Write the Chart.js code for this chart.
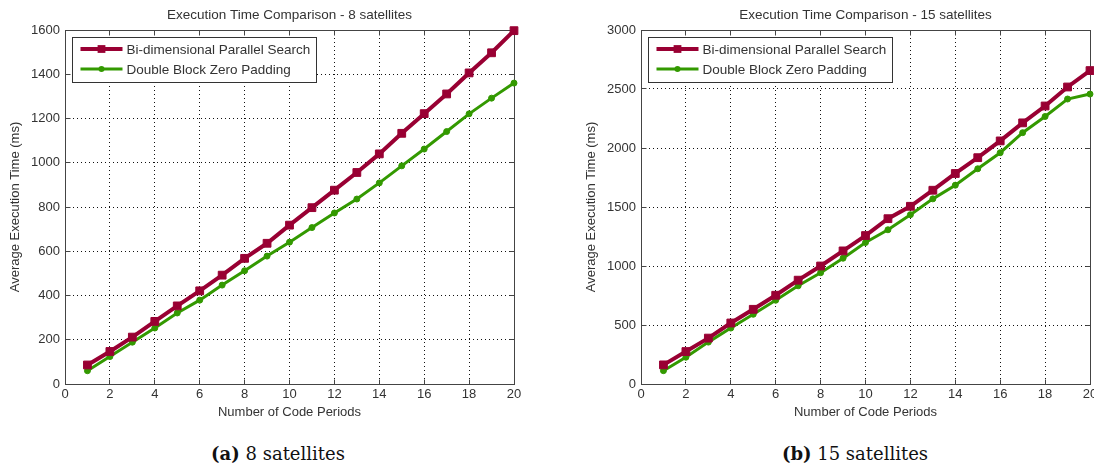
<!DOCTYPE html>
<html><head><meta charset="utf-8">
<script src="https://cdn.jsdelivr.net/npm/chart.js@4.4.1/dist/chart.umd.min.js"></script>
<style>
html,body{margin:0;padding:0;background:#fff;width:1094px;height:471px;overflow:hidden;position:relative;}
canvas{position:absolute;top:0;}
#c1{left:0;}
#c2{left:547px;}
.cap{position:absolute;top:444px;font-family:"DejaVu Serif",serif;font-size:18px;color:#111;white-space:nowrap;transform:translateX(-50%);line-height:20px;}
</style></head><body>
<canvas id="c1" width="547" height="430"></canvas>
<canvas id="c2" width="560" height="430"></canvas>
<div class="cap" style="left:278px"><b>(a)</b> 8 satellites</div>
<div class="cap" style="left:855px"><b>(b)</b> 15 satellites</div>
<script>
// ---- data ----
const periods = [1,2,3,4,5,6,7,8,9,10,11,12,13,14,15,16,17,18,19,20];
const xTicks = [0,2,4,6,8,10,12,14,16,18,20];
const yTicks8 = [0,200,400,600,800,1000,1200,1400,1600];
const yTicks15 = [0,500,1000,1500,2000,2500,3000];
const bi8   = [86,147,212,283,353,421,492,568,636,718,797,876,956,1040,1133,1222,1311,1406,1497,1597];
const dbzp8 = [60,124,189,253,321,379,447,512,578,641,707,773,836,909,986,1062,1141,1221,1292,1360];
const bi15   = [162,275,389,517,633,752,880,1000,1128,1258,1401,1506,1642,1784,1918,2060,2213,2356,2517,2656];
const dbzp15 = [113,227,355,474,591,710,832,943,1066,1199,1307,1435,1569,1685,1824,1960,2130,2267,2415,2457];
const seriesLabels = ['Bi-dimensional Parallel Search','Double Block Zero Padding'];
const chartTitles = ['Execution Time Comparison - 8 satellites','Execution Time Comparison - 15 satellites'];
const xTitle = 'Number of Code Periods';
const yTitle = 'Average Execution Time (ms)';

const FONT = '"Liberation Sans", Arial, sans-serif';
const TXT = '#333';
const RED = '#990033';
const GREEN = '#339900';

function ap(p){ return Math.round(p - 0.5) + 0.5; }

const framePlugin = {
  id: 'frame',
  beforeDatasetsDraw(chart){
    const {ctx, chartArea:a, scales:{x, y}} = chart;
    const L = ap(a.left), R = ap(a.right), T = ap(a.top), B = ap(a.bottom);
    ctx.save();
    ctx.strokeStyle = '#444';
    ctx.lineWidth = 1;
    ctx.setLineDash([]);
    ctx.strokeRect(L, T, R - L, B - T);
    ctx.beginPath();
    x.ticks.forEach(t => {
      const px = ap(x.getPixelForValue(t.value));
      ctx.moveTo(px, B); ctx.lineTo(px, B - 5);
      ctx.moveTo(px, T); ctx.lineTo(px, T + 5);
    });
    y.ticks.forEach(t => {
      const py = ap(y.getPixelForValue(t.value));
      ctx.moveTo(L, py); ctx.lineTo(L + 5, py);
      ctx.moveTo(R, py); ctx.lineTo(R - 5, py);
    });
    ctx.stroke();
    ctx.restore();
  },
  afterDraw(chart){
    // chart title centred over the plot area (as in the reference)
    const {ctx, chartArea:a} = chart;
    ctx.save();
    ctx.font = '13.5px ' + FONT;
    ctx.fillStyle = TXT;
    ctx.textAlign = 'center';
    ctx.textBaseline = 'middle';
    ctx.fillText(chart.options.plotTitle, (a.left + a.right) / 2, 15);
    ctx.restore();
  }
};

const legendPlugin = {
  id: 'boxLegend',
  afterDatasetsDraw(chart){
    const {ctx, chartArea:a} = chart;
    ctx.save();
    ctx.font = '13.5px ' + FONT;
    const ds = chart.data.datasets;
    let tw = 0;
    ds.forEach(d => { tw = Math.max(tw, ctx.measureText(d.label).width); });
    const bx = Math.round(a.left) + 7 + 0.5, by = Math.round(a.top) + 7 + 0.5;
    const lineX0 = bx + 8, lineX1 = bx + 50, textX = bx + 54;
    const bw = Math.round(54 + tw + 6), bh = 45;
    ctx.fillStyle = '#fff';
    ctx.fillRect(bx, by, bw, bh);
    ctx.strokeStyle = '#333'; ctx.lineWidth = 1;
    ctx.strokeRect(bx, by, bw, bh);
    ds.forEach((d, i) => {
      const cy = by + 11.5 + i * 20;
      ctx.strokeStyle = d.borderColor; ctx.lineWidth = d.borderWidth;
      ctx.beginPath(); ctx.moveTo(lineX0, cy); ctx.lineTo(lineX1, cy); ctx.stroke();
      ctx.fillStyle = d.borderColor;
      const mx = (lineX0 + lineX1) / 2;
      if (d.pointStyle === 'rect') {
        const s = d.pointRadius * Math.SQRT1_2;
        ctx.fillRect(mx - s, cy - s, 2 * s, 2 * s);
      } else {
        ctx.beginPath(); ctx.arc(mx, cy, d.pointRadius, 0, Math.PI * 2); ctx.fill();
      }
      ctx.fillStyle = TXT;
      ctx.textBaseline = 'middle';
      ctx.fillText(d.label, textX, cy + 1);
    });
    ctx.restore();
  }
};

function makeChart(id, title, biVals, dbVals, yTicks, padLeft, padRight){
  const mk = (label, vals, color, w, style, r) => ({
    label: label,
    data: periods.map((p, i) => ({x: p, y: vals[i]})),
    borderColor: color, backgroundColor: color,
    pointBackgroundColor: color, pointBorderColor: color,
    borderWidth: w, pointStyle: style, pointRadius: r, pointBorderWidth: 1,
    tension: 0, clip: false
  });
  return new Chart(document.getElementById(id), {
    type: 'line',
    data: {
      datasets: [
        mk(seriesLabels[0], biVals, RED, 4, 'rect', 5.5),
        mk(seriesLabels[1], dbVals, GREEN, 3, 'circle', 3)
      ]
    },
    options: {
      plotTitle: title,
      responsive: false, animation: false, events: [],
      layout: { padding: { left: padLeft, right: padRight, top: 30, bottom: 0 } },
      plugins: {
        legend: { display: false },
        tooltip: { enabled: false },
        title: { display: false }
      },
      scales: {
        x: {
          type: 'linear', min: xTicks[0], max: xTicks[xTicks.length - 1],
          afterBuildTicks: s => { s.ticks = xTicks.map(v => ({ value: v })); },
          afterFit: s => { s.height = 46; },
          ticks: { color: TXT, font: { family: FONT, size: 13 }, padding: 3, maxRotation: 0, autoSkip: false,
                   callback: v => String(v) },
          grid: { color: '#111', lineWidth: 1, drawTicks: false },
          border: { display: false, dash: [1, 3] },
          title: { display: true, text: xTitle, color: TXT, font: { family: FONT, size: 13 }, padding: { top: 0, bottom: 10 } }
        },
        y: {
          type: 'linear', min: yTicks[0], max: yTicks[yTicks.length - 1],
          afterBuildTicks: s => { s.ticks = yTicks.map(v => ({ value: v })); },
          afterFit: s => { s.width = 65; },
          ticks: { color: TXT, font: { family: FONT, size: 13 }, padding: 5, autoSkip: false,
                   callback: v => String(v) },
          grid: { color: '#111', lineWidth: 1, drawTicks: false },
          border: { display: false, dash: [1, 3] },
          title: { display: true, text: yTitle, color: TXT, font: { family: FONT, size: 13 }, padding: { top: 8, bottom: 0 } }
        }
      }
    },
    plugins: [framePlugin, legendPlugin]
  });
}

makeChart('c1', chartTitles[0], bi8, dbzp8, yTicks8, 0, 33);
makeChart('c2', chartTitles[1], bi15, dbzp15, yTicks15, 29, 17);
</script>
</body></html>
